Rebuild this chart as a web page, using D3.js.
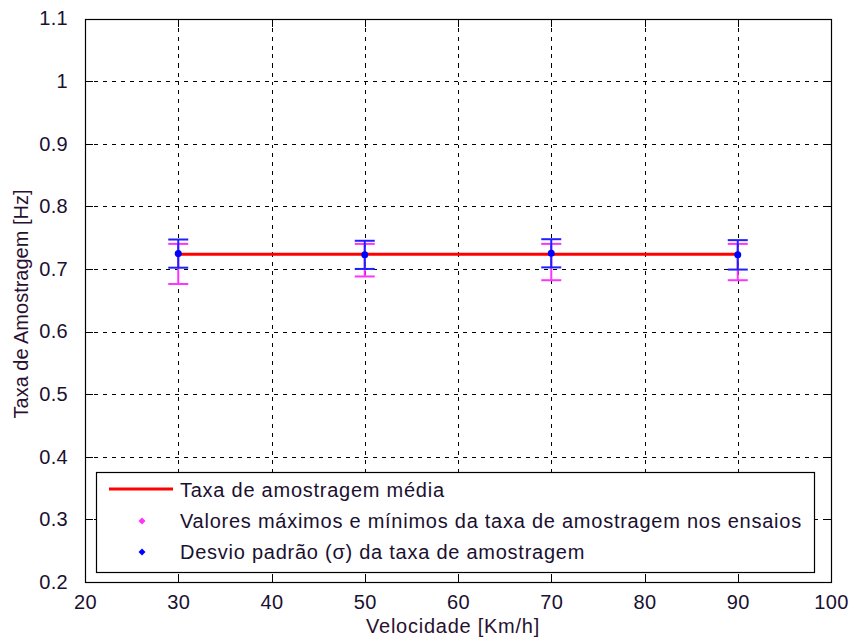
<!DOCTYPE html>
<html>
<head>
<meta charset="utf-8">
<script src="https://cdn.jsdelivr.net/npm/d3@7/dist/d3.min.js"></script>
<style>
  html, body { margin: 0; padding: 0; background: #fff; }
  svg { display: block; font-family: "Liberation Sans", Arial, sans-serif; }
</style>
</head>
<body>
<svg id="chart" width="850" height="638"></svg>
<script>
// Test speeds (km/h)
const speeds = [30, 50, 70, 90];
// Mean sampling rate per speed (Hz)
const meanRate = [0.7245, 0.7225, 0.7250, 0.7225];
// Standard deviation per speed (Hz)
const stdRate = [0.0225, 0.0225, 0.0225, 0.0235];
// Max / min sampling rate across runs (Hz)
const maxRate = [0.740, 0.740, 0.740, 0.740];
const minRate = [0.676, 0.688, 0.682, 0.682];
// Overall mean sampling rate (Hz)
const overallMean = [0.7235, 0.7235];
const overallSpeeds = [30, 90];

const xTicks = [20, 30, 40, 50, 60, 70, 80, 90, 100];
const yTicks = [0.2, 0.3, 0.4, 0.5, 0.6, 0.7, 0.8, 0.9, 1, 1.1];

const legendLabels = [
  "Taxa de amostragem média",
  "Valores máximos e mínimos da taxa de amostragem nos ensaios",
  "Desvio padrão (σ) da taxa de amostragem"
];

const svg = d3.select("#chart");
const L = 85, R = 831, T = 18.5, B = 582;
const x = d3.scaleLinear().domain([20, 100]).range([L, R]);
const y = d3.scaleLinear().domain([0.2, 1.1]).range([B, T]);

const textColor = "#1a1030";
const fontSize = 20;
const spacing = "0.75px";

// grid
const grid = svg.append("g").attr("stroke", "#000").attr("stroke-width", 1)
  .attr("stroke-dasharray", "4,5").attr("shape-rendering", "crispEdges");
xTicks.slice(1, -1).forEach(t => {
  grid.append("line").attr("x1", Math.round(x(t)) + 0.5).attr("x2", Math.round(x(t)) + 0.5)
    .attr("y1", T).attr("y2", B);
});
yTicks.slice(1, -1).forEach(t => {
  grid.append("line").attr("y1", Math.round(y(t)) + 0.5).attr("y2", Math.round(y(t)) + 0.5)
    .attr("x1", L).attr("x2", R);
});

// axes with inward ticks on all four sides
const tickLen = 8;
const xAxisB = d3.axisBottom(x).tickValues(xTicks).tickSizeInner(-tickLen).tickSizeOuter(0).tickPadding(tickLen + 5);
const xAxisT = d3.axisTop(x).tickValues(xTicks).tickSizeInner(-tickLen).tickSizeOuter(0).tickFormat("");
const yAxisL = d3.axisLeft(y).tickValues(yTicks).tickSizeInner(-tickLen).tickSizeOuter(0).tickPadding(tickLen + 9).tickFormat(d3.format("~g"));
const yAxisR = d3.axisRight(y).tickValues(yTicks).tickSizeInner(-tickLen).tickSizeOuter(0).tickFormat("");

function styleAxis(g) {
  g.select(".domain").remove();
  g.selectAll(".tick line").attr("stroke", "#000").attr("shape-rendering", "crispEdges");
  g.selectAll(".tick text").attr("fill", textColor).attr("font-size", fontSize)
    .attr("letter-spacing", "0.3px")
    .attr("font-family", "Liberation Sans, Arial, sans-serif");
}
svg.append("g").attr("transform", `translate(0,${B})`).call(xAxisB).call(styleAxis);
svg.append("g").attr("transform", `translate(0,${T})`).call(xAxisT).call(styleAxis);
svg.append("g").attr("transform", `translate(${L},0)`).call(yAxisL).call(styleAxis);
svg.append("g").attr("transform", `translate(${R},0)`).call(yAxisR).call(styleAxis);

// plot frame
svg.append("rect").attr("x", L + 0.5).attr("y", Math.round(T) + 0.5)
  .attr("width", R - L).attr("height", B - Math.round(T))
  .attr("fill", "none").attr("stroke", "#000").attr("stroke-width", 1.2);

// error bars
const capHalf = 10;
function errorBars(lo, hi, color) {
  const g = svg.append("g").attr("stroke", color).attr("stroke-width", 2).attr("fill", "none");
  speeds.forEach((s, i) => {
    const cx = x(s);
    g.append("line").attr("x1", cx).attr("x2", cx).attr("y1", y(lo[i])).attr("y2", y(hi[i]));
    g.append("line").attr("x1", cx - capHalf).attr("x2", cx + capHalf).attr("y1", y(lo[i])).attr("y2", y(lo[i]));
    g.append("line").attr("x1", cx - capHalf).attr("x2", cx + capHalf).attr("y1", y(hi[i])).attr("y2", y(hi[i]));
  });
}
errorBars(minRate, maxRate, "#ff33ff");
errorBars(meanRate.map((m, i) => m - stdRate[i]), meanRate.map((m, i) => m + stdRate[i]), "#2020ff");

// overall mean line
svg.append("path")
  .datum(overallSpeeds.map((s, i) => [s, overallMean[i]]))
  .attr("d", d3.line().x(d => x(d[0])).y(d => y(d[1])))
  .attr("stroke", "#ff0000").attr("stroke-width", 3).attr("fill", "none");

// mean points
svg.append("g").selectAll("circle").data(speeds).join("circle")
  .attr("cx", d => x(d)).attr("cy", (d, i) => y(meanRate[i])).attr("r", 3.5)
  .attr("fill", "#0000ff");

// legend
const lg = svg.append("g");
lg.append("rect").attr("x", 96.5).attr("y", 472.5).attr("width", 718).attr("height", 100)
  .attr("fill", "#fff").attr("stroke", "#000").attr("stroke-width", 1.2);
const rowsY = [490, 521, 552];
lg.append("line").attr("x1", 109).attr("x2", 173).attr("y1", rowsY[0] - 1).attr("y2", rowsY[0] - 1)
  .attr("stroke", "#ff0000").attr("stroke-width", 3);
const diamond = "M0,-3.5L3.5,0L0,3.5L-3.5,0Z";
lg.append("path").attr("d", diamond).attr("transform", `translate(142,${rowsY[1]})`).attr("fill", "#ff33ff");
lg.append("path").attr("d", diamond).attr("transform", `translate(142,${rowsY[2]})`).attr("fill", "#0000ff");
legendLabels.forEach((t, i) => {
  lg.append("text").attr("x", 180).attr("y", rowsY[i]).attr("dy", "0.35em")
    .attr("font-size", fontSize).attr("letter-spacing", spacing).attr("fill", textColor).text(t);
});

// axis labels
svg.append("text").attr("x", 453).attr("y", 633).attr("text-anchor", "middle")
  .attr("font-size", fontSize).attr("letter-spacing", spacing).attr("fill", "#2a1030").text("Velocidade [Km/h]");
svg.append("text").attr("transform", `translate(28,304) rotate(-90)`)
  .attr("text-anchor", "middle").attr("font-size", fontSize).attr("fill", "#2a1030")
  .text("Taxa de Amostragem [Hz]");
</script>
</body>
</html>
